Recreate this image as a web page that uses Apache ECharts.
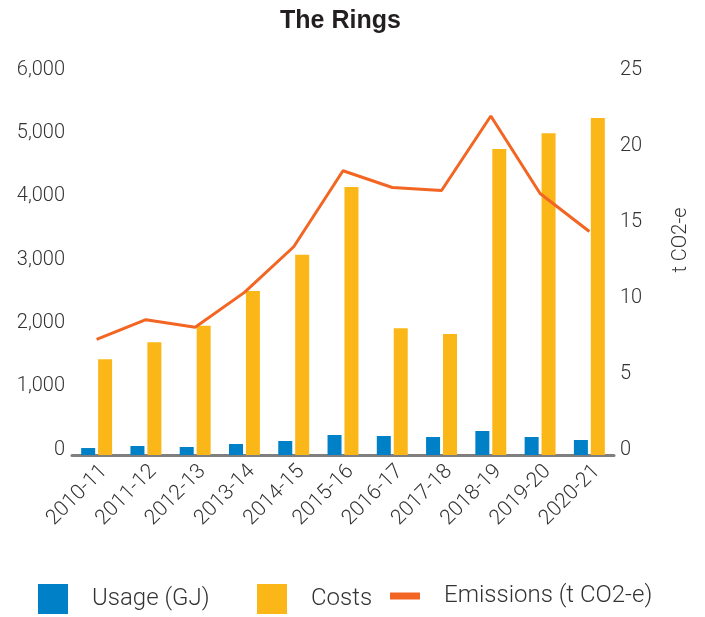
<!DOCTYPE html>
<html>
<head>
<meta charset="utf-8">
<script src="https://cdn.jsdelivr.net/npm/echarts@6/dist/echarts.min.js"></script>
<style>html,body{margin:0;padding:0;background:#fff;}#c{width:705px;height:617px;}</style>
</head>
<body>
<div id="c"></div>
<script>
const categories = ['2010-11','2011-12','2012-13','2013-14','2014-15','2015-16','2016-17','2017-18','2018-19','2019-20','2020-21'];
const usage = [110, 142, 126, 174, 221, 316, 300, 284, 379, 284, 237];
const costs = [1510, 1780, 2040, 2590, 3160, 4230, 2000, 1910, 4830, 5080, 5320];
const emissions = [7.6, 8.9, 8.4, 10.7, 13.7, 18.7, 17.6, 17.4, 22.3, 17.2, 14.7];
const leftTicks = { min: 0, max: 6000, interval: 1000 };
const rightTicks = { min: 0, max: 25, interval: 5 };

const FONT = 'Roboto';
const TXT = '#333333';
const chart = echarts.init(document.getElementById('c'), null, { renderer: 'canvas' });
const legendBase = {
  top: 584, padding: 0, itemWidth: 30, itemHeight: 30, icon: 'rect',
  textStyle: { fontSize: 24, fontFamily: FONT, fontWeight: 300, color: TXT, padding: [0, 0, 0, 19] },
  selectedMode: false
};
chart.setOption({
  animation: false,
  title: {
    text: 'The Rings', left: 275, top: 4,
    textStyle: { fontFamily: 'Liberation Sans', fontWeight: 'bold', fontSize: 25, color: '#231f20' }
  },
  legend: [
    Object.assign({}, legendBase, { left: 38, data: ['Usage (GJ)'] }),
    Object.assign({}, legendBase, { left: 257, data: ['Costs'] }),
    Object.assign({}, legendBase, { left: 390, itemHeight: 7, data: ['Emissions (t CO2-e)'] })
  ],
  grid: { left: 72, right: 91, top: 75, bottom: 162 },
  xAxis: {
    type: 'category', data: categories,
    axisLine: { lineStyle: { color: '#7f7f7f', width: 3 } },
    axisTick: { show: false },
    axisLabel: { rotate: 45, fontSize: 21, fontFamily: FONT, fontWeight: 300, color: TXT, margin: 6, verticalAlign: 'top' }
  },
  yAxis: [
    {
      type: 'value', min: leftTicks.min, max: leftTicks.max, interval: leftTicks.interval,
      splitLine: { show: false }, axisLine: { show: false }, axisTick: { show: false },
      axisLabel: { fontSize: 20, fontFamily: FONT, fontWeight: 300, color: TXT, margin: 7, verticalAlign: 'bottom',
        lineHeight: 11, formatter: v => v.toLocaleString('en-US') }
    },
    {
      type: 'value', min: rightTicks.min, max: rightTicks.max, interval: rightTicks.interval,
      splitLine: { show: false }, axisLine: { show: false }, axisTick: { show: false },
      axisLabel: { fontSize: 20, fontFamily: FONT, fontWeight: 300, color: TXT, margin: 6, verticalAlign: 'bottom',
        lineHeight: 11 }
    }
  ],
  graphic: [{
    type: 'text', x: 681, y: 240, rotation: Math.PI / 2,
    style: { text: 't CO2-e', fontSize: 20, fontFamily: FONT, fontWeight: 300, fill: TXT, align: 'center', verticalAlign: 'middle' }
  }],
  series: [
    { name: 'Usage (GJ)', type: 'bar', data: usage, barWidth: 14, barGap: '21%', itemStyle: { color: '#0080c6' } },
    { name: 'Costs', type: 'bar', data: costs, barWidth: 14, itemStyle: { color: '#fbb717' } },
    { name: 'Emissions (t CO2-e)', type: 'line', yAxisIndex: 1, data: emissions, symbol: 'none',
      lineStyle: { color: '#f26522', width: 3 }, itemStyle: { color: '#f26522' } }
  ]
});
</script>
</body>
</html>
